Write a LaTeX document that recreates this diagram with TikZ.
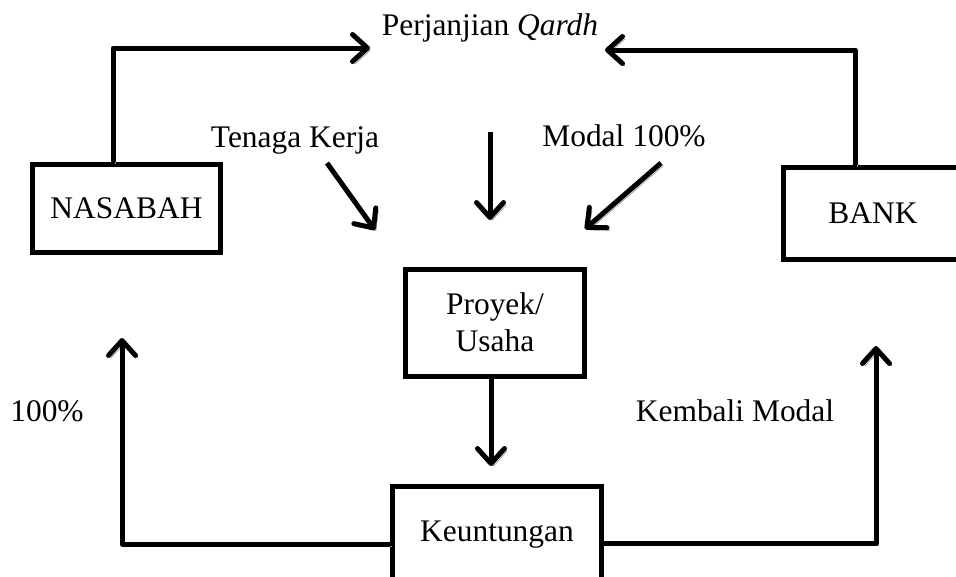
\documentclass[tikz,border=0pt]{standalone}
\usepackage{fontspec}
\setmainfont{Liberation Serif}
\usepackage{tikz}
\usetikzlibrary{positioning,arrows.meta}
\tikzset{>={Straight Barb[length=3mm,width=5.4mm,round]}}

\begin{document}
\begin{tikzpicture}[x=0.02cm,y=-0.02cm,
		kotak/.style={draw,line width=1mm,fill=white,inner sep=0pt,align=center,font=\fontsize{17.9}{21}\selectfont},
		teks/.style={inner sep=0pt,anchor=base,font=\fontsize{17.9}{21}\selectfont},
		panah/.style={->,line width=1mm,line join=round,preaction={draw=black!40,transform canvas={xshift=0.5mm,yshift=-0.5mm}}}]
		
		\useasboundingbox (0,0) rectangle (956,576);
		
		\node(B1)[kotak,minimum width=3.78cm,minimum height=1.76cm] at (126.5,208)	{NASABAH};
		\node(B2)[kotak,minimum width=3.6cm,minimum height=1.84cm] at (873,213)		{BANK};
		\node(C1)[kotak,minimum width=3.6cm,minimum height=2.14cm] at (495,322.5)	{Proyek/\\Usaha};
		\node(D1)[kotak,minimum width=4.2cm,minimum height=1.96cm] at (497,535)		{Keuntungan};
		
		\node(A1)[teks] at (490,35)		{Perjanjian \textit{Qardh}};
		\node(L1)[teks] at (295,147)	{Tenaga Kerja};
		\node(L2)[teks] at (624,146)	{Modal 100\%};
		\node(L3)[teks] at (47,421)		{100\%};
		\node(L4)[teks] at (735,421)	{Kembali Modal};
		
		\coordinate(P1) at (370,48);
		\coordinate(P2) at (605,50);
		\coordinate(T1) at (327,163);
		\coordinate(T2) at (375,230);
		\coordinate(M1) at (490,132);
		\coordinate(M2) at (490,220);
		\coordinate(R1) at (661,163);
		\coordinate(R2) at (585,229);
		\coordinate(H1) at (491,466);
		\coordinate(K1) at (122,338);
		\coordinate(K2) at (876,346);
		
		\draw[panah]([xshift=-0.27cm]B1.north) |- (P1);
		\draw[panah]([xshift=-0.36cm]B2.north) |- (P2);
		\draw[panah](T1) -- (T2);
		\draw[panah](M1) -- (M2);
		\draw[panah](R1) -- (R2);
		\draw[panah](C1.south -| H1) -- (H1);
		\draw[panah]([yshift=-0.18cm]D1.west) -| (K1);
		\draw[panah]([yshift=-0.16cm]D1.east) -| (K2);
		
	\end{tikzpicture}
\end{document}
